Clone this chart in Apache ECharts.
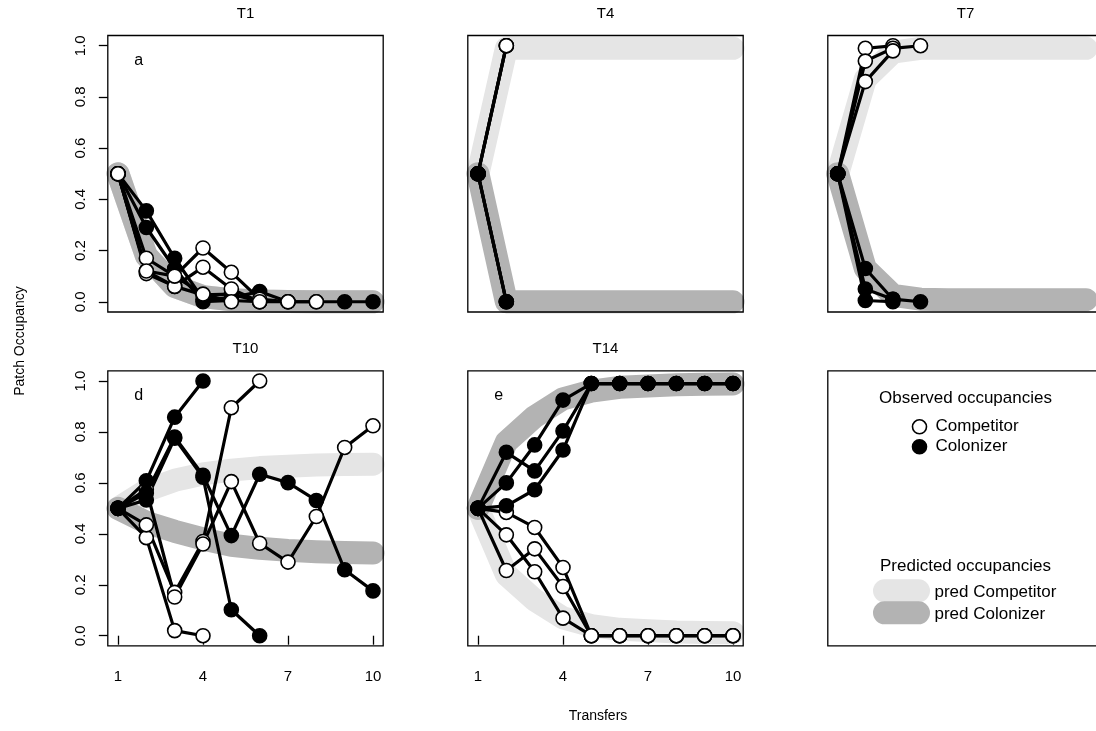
<!DOCTYPE html>
<html><head><meta charset="utf-8">
<script src="https://cdn.jsdelivr.net/npm/echarts@6/dist/echarts.min.js"></script>
<style>html,body{margin:0;padding:0;background:#fff}#c{width:1096px;height:731px}</style>
</head><body><div id="c"></div>
<script>
// ---------------- data ----------------
const transfers = [1, 2, 3, 4, 5, 6, 7, 8, 9, 10];
const xTickValues = [1, 4, 7, 10];
const yTickValues = [0, 0.2, 0.4, 0.6, 0.8, 1.0];
const panelTitles = ['T1', 'T4', 'T7', 'T10', 'T14'];
const panelLetters = ['a', '', '', 'd', 'e'];

// T1
const t1Competitor = [
  [0.5, 0.17, 0.10, 0.21, 0.115, 0.01, 0.0, 0.0],
  [0.5, 0.11, 0.06, 0.135, 0.05, 0.0],
  [0.5, 0.12, 0.10, 0.03, 0.0]
];
const t1Colonizer = [
  [0.5, 0.355, 0.17, 0.01, 0.015, 0.04, 0.0, 0.0, 0.0, 0.0],
  [0.5, 0.29, 0.13, 0.0, 0.005, 0.0, 0.0],
  [0.5, 0.12, 0.06, 0.027, 0.03, 0.0]
];
const t1PredCompetitor = [0.5, 0.18, 0.06, 0.02, 0.008, 0.003, 0.001, 0, 0, 0];
const t1PredColonizer  = [0.5, 0.18, 0.06, 0.02, 0.008, 0.003, 0.001, 0, 0, 0];

// T4
const t4Competitor = [[0.5, 1.0], [0.5, 1.0], [0.5, 1.0]];
const t4Colonizer  = [[0.5, 0.0], [0.5, 0.0], [0.5, 0.0]];
const t4PredCompetitor = [0.5, 0.99, 0.99, 0.99, 0.99, 0.99, 0.99, 0.99, 0.99, 0.99];
const t4PredColonizer  = [0.5, 0.0, 0.0, 0.0, 0.0, 0.0, 0.0, 0.0, 0.0, 0.0];

// T7
const t7Competitor = [[0.5, 0.99, 1.0], [0.5, 0.94, 0.99, 1.0], [0.5, 0.86, 0.98]];
const t7Colonizer  = [[0.5, 0.005, 0.0], [0.5, 0.05, 0.01, 0.0], [0.5, 0.13, 0.01]];
const t7PredCompetitor = [0.5, 0.87, 0.975, 0.99, 0.99, 0.99, 0.99, 0.99, 0.99, 0.99];
const t7PredColonizer  = [0.5, 0.13, 0.025, 0.01, 0.008, 0.008, 0.008, 0.008, 0.008, 0.008];

// T10
const t10Competitor = [
  [0.5, 0.385, 0.02, 0.0],
  [0.5, 0.435, 0.17, 0.37, 0.895, 1.0],
  [0.5, 0.575, 0.152, 0.36, 0.605, 0.363, 0.289, 0.468, 0.739, 0.824]
];
const t10Colonizer = [
  [0.5, 0.608, 0.858, 1.0],
  [0.5, 0.533, 0.775, 0.622, 0.102, 0.0],
  [0.5, 0.56, 0.78, 0.63, 0.393, 0.634, 0.601, 0.531, 0.259, 0.176]
];
const t10PredCompetitor = [0.5, 0.57, 0.61, 0.635, 0.65, 0.66, 0.665, 0.67, 0.672, 0.673];
const t10PredColonizer  = [0.5, 0.445, 0.41, 0.38, 0.355, 0.343, 0.335, 0.33, 0.327, 0.325];

// T14
const t14Competitor = [
  [0.5, 0.484, 0.425, 0.268, 0.0, 0.0, 0.0, 0.0, 0.0, 0.0],
  [0.5, 0.396, 0.251, 0.069, 0.0, 0.0, 0.0, 0.0, 0.0, 0.0],
  [0.5, 0.256, 0.341, 0.193, 0.0, 0.0, 0.0, 0.0, 0.0, 0.0]
];
const t14Colonizer = [
  [0.5, 0.72, 0.647, 0.804, 0.99, 0.99, 0.99, 0.99, 0.99, 0.99],
  [0.5, 0.60, 0.749, 0.925, 0.99, 0.99, 0.99, 0.99, 0.99, 0.99],
  [0.5, 0.51, 0.573, 0.729, 0.99, 0.99, 0.99, 0.99, 0.99, 0.99]
];
const t14PredCompetitor = [0.5, 0.24, 0.14, 0.07, 0.04, 0.025, 0.02, 0.015, 0.013, 0.012];
const t14PredColonizer  = [0.5, 0.76, 0.86, 0.93, 0.96, 0.975, 0.98, 0.985, 0.987, 0.988];

const legendObservedTitle = 'Observed occupancies';
const legendObserved = ['Competitor', 'Colonizer'];
const legendPredictedTitle = 'Predicted occupancies';
const legendPredicted = ['pred Competitor', 'pred Colonizer'];

// ---------------- layout ----------------
const FONT = '"Liberation Sans", Arial, Helvetica, sans-serif';
const colLeft = [107.8, 467.8, 827.8];
const gridW = 275.4;
const rowTop = [35.5, 370.8];
const rowH = [276.5, 275.1];
const COMP_FILL = '#ffffff', COL_FILL = '#000000';
const PRED_COMP = '#e5e5e5', PRED_COL = '#b3b3b3';

const panels = [
  { comp: t1Competitor, col: t1Colonizer, pc: t1PredCompetitor, pl: t1PredColonizer, compOnTop: true },
  { comp: t4Competitor, col: t4Colonizer, pc: t4PredCompetitor, pl: t4PredColonizer, compOnTop: false },
  { comp: t7Competitor, col: t7Colonizer, pc: t7PredCompetitor, pl: t7PredColonizer, compOnTop: false },
  { comp: t10Competitor, col: t10Colonizer, pc: t10PredCompetitor, pl: t10PredColonizer, compOnTop: false },
  { comp: t14Competitor, col: t14Colonizer, pc: t14PredCompetitor, pl: t14PredColonizer, compOnTop: false }
];

function rect(i) {
  const r = i < 3 ? 0 : 1, c = i % 3;
  return { left: colLeft[c], top: rowTop[r], width: gridW, height: rowH[r] };
}
const toXY = arr => arr.map((v, k) => [transfers[k], v]);

function txt(t, x, y, align, size) {
  return { type: 'text', z: 100, silent: true,
    style: { text: t, x: x, y: y, fill: '#000', font: size + 'px ' + FONT,
      textAlign: align, textVerticalAlign: 'middle', align: align, verticalAlign: 'middle' } };
}

const grids = [], xAxes = [], yAxes = [], series = [], graphics = [];
panels.forEach((p, i) => {
  const g = rect(i);
  grids.push(Object.assign({ show: false, containLabel: false }, g));
  const showX = i >= 3, showY = (i % 3) === 0;
  xAxes.push({
    type: 'value', gridIndex: i, min: 0.64, max: 10.36, show: showX,
    axisLine: { show: false }, splitLine: { show: false },
    axisTick: { show: true, customValues: xTickValues, length: 9, lineStyle: { color: '#000', width: 1.3 } },
    axisLabel: { show: true, customValues: xTickValues, margin: 23, color: '#000', fontSize: 15, fontFamily: FONT,
      formatter: v => String(v) }
  });
  yAxes.push({
    type: 'value', gridIndex: i, min: -0.04, max: 1.04, show: showY,
    axisLine: { show: false }, splitLine: { show: false },
    axisTick: { show: true, customValues: yTickValues, length: 9, lineStyle: { color: '#000', width: 1.3 } },
    axisLabel: { show: true, customValues: yTickValues, rotate: 90, margin: 19, color: '#000', fontSize: 15, fontFamily: FONT,
      formatter: v => v.toFixed(1) }
  });
  [[p.pc, PRED_COMP], [p.pl, PRED_COL]].forEach(([d, c]) => {
    series.push({
      type: 'line', xAxisIndex: i, yAxisIndex: i, data: toXY(d), symbol: 'none', silent: true, z: 1,
      lineStyle: { color: c, width: 23, cap: 'round', join: 'round' }, clip: true
    });
  });
  const order = p.compOnTop ? [[p.col, COL_FILL], [p.comp, COMP_FILL]] : [[p.comp, COMP_FILL], [p.col, COL_FILL]];
  order.forEach(([reps, fill]) => {
    reps.forEach(rep => {
      series.push({
        type: 'line', xAxisIndex: i, yAxisIndex: i, data: toXY(rep), z: 2, silent: true,
        symbol: 'circle', symbolSize: 14, showAllSymbol: true, clip: false,
        lineStyle: { color: '#000', width: 3.2 },
        itemStyle: { color: fill, borderColor: '#000', borderWidth: 1.6 }
      });
    });
  });
  graphics.push({ type: 'rect', z: 100, silent: true,
    shape: { x: g.left, y: g.top, width: g.width, height: g.height },
    style: { fill: 'none', stroke: '#000', lineWidth: 1.3 } });
  graphics.push(txt(panelTitles[i], g.left + g.width / 2, g.top - 22, 'center', 15));
  if (panelLetters[i]) {
    graphics.push(txt(panelLetters[i], g.left + 31, g.top + 25, 'center', 16));
  }
});

// legend panel (position of sixth panel)
const lg = rect(5);
const lcx = lg.left + lg.width / 2;
graphics.push({ type: 'rect', z: 100, silent: true,
  shape: { x: lg.left, y: lg.top, width: lg.width, height: lg.height },
  style: { fill: 'none', stroke: '#000', lineWidth: 1.3 } });
graphics.push(txt(legendObservedTitle, lcx, lg.top + 28, 'center', 17));
[COMP_FILL, COL_FILL].forEach((f, k) => {
  const y = lg.top + 56 + k * 20;
  graphics.push({ type: 'circle', z: 100, silent: true, shape: { cx: lcx - 46, cy: y, r: 7 },
    style: { fill: f, stroke: '#000', lineWidth: 1.6 } });
  graphics.push(txt(legendObserved[k], lcx - 30, y, 'left', 17));
});
graphics.push(txt(legendPredictedTitle, lcx, lg.top + 196, 'center', 17));
[PRED_COMP, PRED_COL].forEach((c, k) => {
  const y = lg.top + 220 + k * 22;
  graphics.push({ type: 'line', z: 99, silent: true, shape: { x1: lcx - 81, y1: y, x2: lcx - 47, y2: y },
    style: { stroke: c, lineWidth: 23, lineCap: 'round' } });
  graphics.push(txt(legendPredicted[k], lcx - 31, y + 2, 'left', 17));
});

// axis titles
graphics.push({ type: 'text', z: 100, silent: true, x: 20, y: 341, rotation: Math.PI / 2,
  style: { text: 'Patch Occupancy', x: 0, y: 0, fill: '#000', font: '14px ' + FONT,
    textAlign: 'center', textVerticalAlign: 'middle', align: 'center', verticalAlign: 'middle' } });
graphics.push(txt('Transfers', 598, 716, 'center', 14));

const chart = echarts.init(document.getElementById('c'), null, { renderer: 'canvas' });
chart.setOption({
  animation: false,
  backgroundColor: '#ffffff',
  grid: grids, xAxis: xAxes, yAxis: yAxes, series: series,
  graphic: { elements: graphics }
});
</script>
</body></html>
